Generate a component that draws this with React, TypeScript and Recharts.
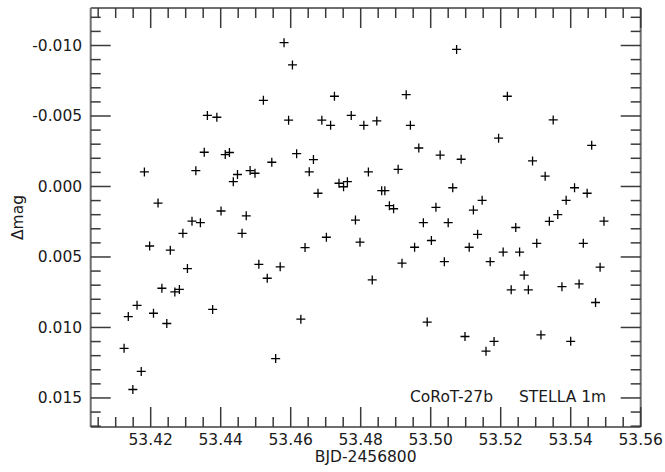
import React from 'react';
import { ScatterChart, Scatter, XAxis, YAxis } from 'recharts';

// BJD - 2456800 (days)
const times = [
  53.4124, 53.4136, 53.4149, 53.4161, 53.4173, 53.4182, 53.4197, 53.4208, 53.4221, 53.4232,
  53.4246, 53.4256, 53.4269, 53.4282, 53.4292, 53.4305, 53.4318, 53.4329, 53.4342, 53.4353,
  53.4362, 53.4377, 53.4389, 53.4401, 53.4413, 53.4425, 53.4436, 53.4448, 53.4461, 53.4473,
  53.4484, 53.4498, 53.4509, 53.4522, 53.4533, 53.4546, 53.4557, 53.457, 53.4581, 53.4594,
  53.4605, 53.4617, 53.4629, 53.4641, 53.4653, 53.4665, 53.4678, 53.4689, 53.4702, 53.4714,
  53.4725, 53.4738, 53.4751, 53.4762, 53.4773, 53.4785, 53.4798, 53.4809, 53.4822, 53.4833,
  53.4846, 53.486, 53.4869, 53.4882, 53.4894, 53.4907, 53.4918, 53.493, 53.4942, 53.4954,
  53.4966, 53.4979, 53.499, 53.5002, 53.5015, 53.5027, 53.5039, 53.505, 53.5063, 53.5074,
  53.5087, 53.5098, 53.511, 53.5122, 53.5134, 53.5147, 53.5158, 53.517, 53.5181, 53.5194,
  53.5207, 53.5219, 53.523, 53.5243, 53.5254, 53.5267, 53.5279, 53.5291, 53.5303, 53.5315,
  53.5327, 53.5339, 53.535, 53.5363, 53.5375, 53.5387, 53.54, 53.5411, 53.5424, 53.5436,
  53.5447, 53.546, 53.5471, 53.5484, 53.5495,
];

// differential magnitude
const dmag = [
  0.01148, 0.00923, 0.0144, 0.00843, 0.01312, -0.00103, 0.00422, 0.00899, 0.00118, 0.00722,
  0.00972, 0.00452, 0.00748, 0.0073, 0.00332, 0.00582, 0.00246, -0.00112, 0.00257, -0.00243,
  -0.00504, 0.00872, -0.00491, 0.00174, -0.00226, -0.00241, -0.00034, -0.00085, 0.00332, 0.00208,
  -0.00113, -0.00094, 0.00552, -0.00611, 0.00651, -0.00172, 0.01221, 0.0057, -0.0102, -0.0047,
  -0.00862, -0.00233, 0.00941, 0.00433, -0.00104, -0.00191, 0.00048, -0.0047, 0.0036, -0.00434,
  -0.0064, -0.00023, 0.00002, -0.00034, -0.00504, 0.00238, 0.00395, -0.00434, -0.00103, 0.00663,
  -0.00465, 0.0003, 0.0003, 0.00136, 0.00158, -0.00122, 0.00544, -0.00651, -0.00434, 0.00431,
  -0.00273, 0.00257, 0.00962, 0.00383, 0.00148, -0.00223, 0.00533, 0.00257, 0.00009, -0.00972,
  -0.00193, 0.01064, 0.00431, 0.00167, 0.00339, 0.00098, 0.01168, 0.00533, 0.01099, -0.00343,
  0.00465, -0.0064, 0.00733, 0.00291, 0.00465, 0.00629, 0.00733, -0.00181, 0.00403, 0.01053,
  -0.00073, 0.00247, -0.00472, 0.00199, 0.00711, 0.00098, 0.01098, 0.00009, 0.00691, 0.00403,
  0.00048, -0.00292, 0.00823, 0.00572, 0.00246,
];

const xDomain = [53.40286, 53.56];
const yDomain = [-0.01266, 0.01706];

const xMajorTicks = [53.42, 53.44, 53.46, 53.48, 53.5, 53.52, 53.54, 53.56];
const xTickLabels = ['53.42', '53.44', '53.46', '53.48', '53.50', '53.52', '53.54', '53.56'];
const xMinorTicks = [
  53.405, 53.41, 53.415, 53.425, 53.43, 53.435, 53.445, 53.45, 53.455, 53.465, 53.47, 53.475,
  53.485, 53.49, 53.495, 53.505, 53.51, 53.515, 53.525, 53.53, 53.535, 53.545, 53.55, 53.555,
];

const yMajorTicks = [-0.01, -0.005, 0, 0.005, 0.01, 0.015];
const yTickLabels = ['-0.010', '-0.005', '0.000', '0.005', '0.010', '0.015'];
const yMinorTicks = [
  -0.012, -0.011, -0.009, -0.008, -0.007, -0.006, -0.004, -0.003, -0.002, -0.001,
  0.001, 0.002, 0.003, 0.004, 0.006, 0.007, 0.008, 0.009, 0.011, 0.012, 0.013, 0.014, 0.016, 0.017,
];

const xLabel = 'BJD-2456800';
const yLabel = 'Δmag';
const annotations = ['CoRoT-27b', 'STELLA 1m'];

const data = times.map((t, i) => ({ t, m: dmag[i] }));
const xTicks = [...xMajorTicks, ...xMinorTicks].sort((a, b) => a - b);
const yTicks = [...yMajorTicks, ...yMinorTicks].sort((a, b) => a - b);

// layout
const W = 665;
const H = 472;
const PLOT_LEFT = 90.7;
const PLOT_RIGHT = 640.7;
const PLOT_TOP = 8;
const PLOT_BOTTOM = 427;

const FONT = '"DejaVu Sans", sans-serif';
const FS = 15.5;
const TEXT = '#1a1a1a';
const FRAME = '#6e6e6e';
const TICK = '#3a3a3a';
const MAJOR = 20;
const MINOR = 10;

const findIdx = (arr: number[], v: number) => arr.findIndex((m) => Math.abs(m - v) < 1e-7);

const XTick = (props: any) => {
  const { payload, side } = props;
  const x = payload.coordinate;
  const idx = findIdx(xMajorTicks, payload.value);
  const len = idx >= 0 ? MAJOR : MINOR;
  const y0 = side === 'bottom' ? PLOT_BOTTOM : PLOT_TOP;
  const dir = side === 'bottom' ? -1 : 1;
  return (
    <g>
      <line x1={x} y1={y0} x2={x} y2={y0 + dir * len} stroke={TICK} strokeWidth={1.5} />
      {side === 'bottom' && idx >= 0 && (
        <text x={x} y={y0 + 18} textAnchor="middle" fontFamily={FONT} fontSize={FS} fill={TEXT}>
          {xTickLabels[idx]}
        </text>
      )}
    </g>
  );
};

const YTick = (props: any) => {
  const { payload, side } = props;
  const y = payload.coordinate;
  const idx = findIdx(yMajorTicks, payload.value);
  const len = idx >= 0 ? MAJOR : MINOR;
  const x0 = side === 'left' ? PLOT_LEFT : PLOT_RIGHT;
  const dir = side === 'left' ? 1 : -1;
  return (
    <g>
      <line x1={x0} y1={y} x2={x0 + dir * len} y2={y} stroke={TICK} strokeWidth={1.5} />
      {side === 'left' && idx >= 0 && (
        <text x={x0 - 8.5} y={y + 5.5} textAnchor="end" fontFamily={FONT} fontSize={FS} fill={TEXT}>
          {yTickLabels[idx]}
        </text>
      )}
    </g>
  );
};

const Plus = (props: any) => {
  const { cx, cy } = props;
  if (cx == null || cy == null) return null;
  return (
    <path
      d={`M${cx - 4.5},${cy}h9M${cx},${cy - 4.5}v9`}
      stroke="#000"
      strokeWidth={1.3}
      fill="none"
    />
  );
};

const axisCommon = {
  type: 'number' as const,
  interval: 0 as const,
  tickSize: 0,
  tickMargin: 0,
  tickLine: false,
  allowDataOverflow: true,
  axisLine: { stroke: FRAME, strokeWidth: 2 },
};

export default function App() {
  return (
    <div style={{ position: 'absolute', left: 0, top: 0, width: W, height: H, background: '#fff' }}>
      <ScatterChart
        width={W}
        height={H}
        margin={{ top: PLOT_TOP - 1, right: W - PLOT_RIGHT - 1, bottom: 0, left: 0 }}
      >
        <XAxis
          {...axisCommon}
          xAxisId="b"
          dataKey="t"
          orientation="bottom"
          domain={xDomain}
          ticks={xTicks}
          height={H - PLOT_BOTTOM}
          tick={(p: any) => <XTick {...p} side="bottom" />}
        />
        <XAxis
          {...axisCommon}
          xAxisId="t"
          dataKey="t"
          orientation="top"
          domain={xDomain}
          ticks={xTicks}
          height={1}
          tick={(p: any) => <XTick {...p} side="top" />}
        />
        <YAxis
          {...axisCommon}
          yAxisId="l"
          dataKey="m"
          orientation="left"
          reversed
          domain={yDomain}
          ticks={yTicks}
          width={PLOT_LEFT}
          tick={(p: any) => <YTick {...p} side="left" />}
        />
        <YAxis
          {...axisCommon}
          yAxisId="r"
          dataKey="m"
          orientation="right"
          reversed
          domain={yDomain}
          ticks={yTicks}
          width={1}
          tick={(p: any) => <YTick {...p} side="right" />}
        />
        <Scatter data={data} xAxisId="b" yAxisId="l" shape={<Plus />} isAnimationActive={false} />
        <Scatter data={data} xAxisId="t" yAxisId="r" shape={() => null} isAnimationActive={false} />
        <text x={365.7} y={462} textAnchor="middle" fontFamily={FONT} fontSize={FS} fill={TEXT}>
          {xLabel}
        </text>
        <text
          x={22.5}
          y={217.5}
          textAnchor="middle"
          transform="rotate(-90 22.5 217.5)"
          fontFamily={FONT}
          fontSize={FS}
          fill={TEXT}
        >
          {yLabel}
        </text>
        <text x={410} y={401.5} fontFamily={FONT} fontSize={FS} fill={TEXT}>
          {annotations[0]}
        </text>
        <text x={519} y={401.5} fontFamily={FONT} fontSize={FS} fill={TEXT}>
          {annotations[1]}
        </text>
      </ScatterChart>
    </div>
  );
}
